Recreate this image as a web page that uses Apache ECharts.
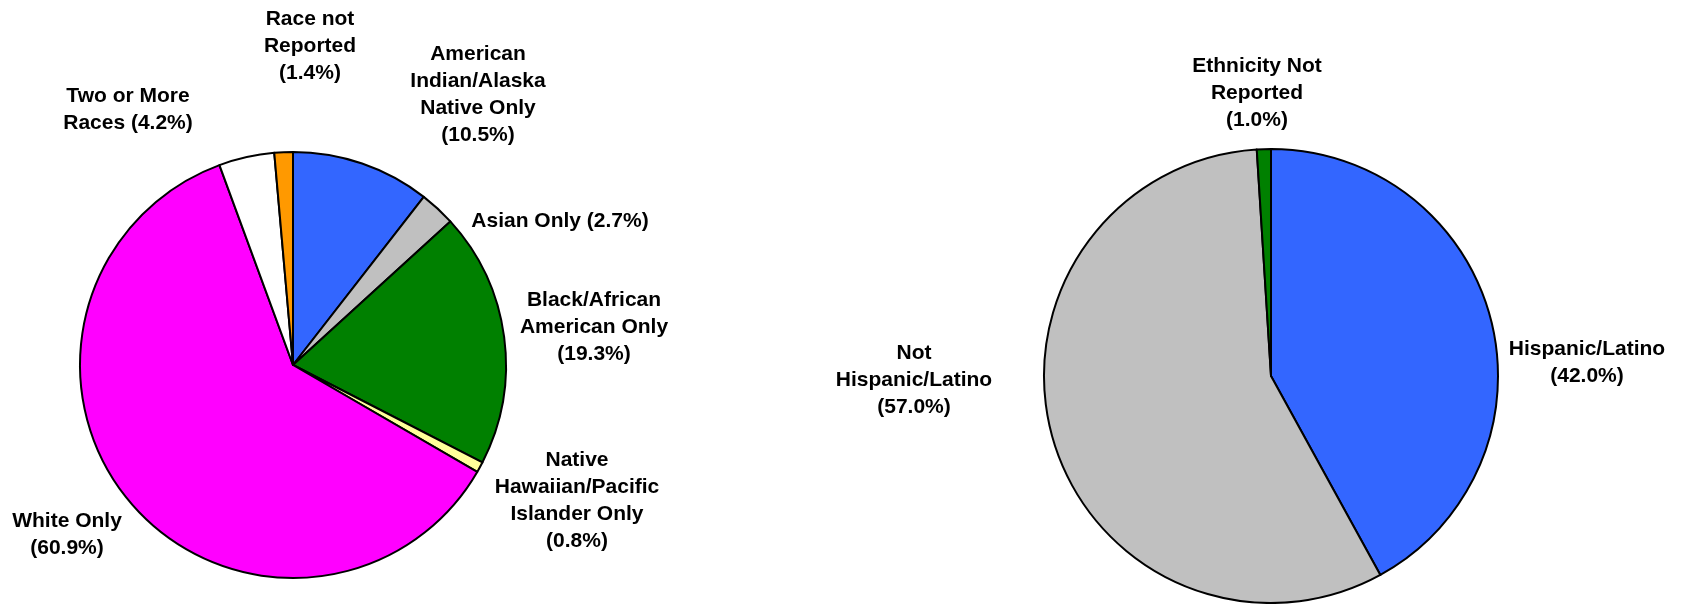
<!DOCTYPE html>
<html><head><meta charset="utf-8">
<script src="https://cdn.jsdelivr.net/npm/echarts@6/dist/echarts.min.js"></script>
<style>html,body{margin:0;padding:0;background:#fff}#c{width:1695px;height:604px}</style>
</head><body><div id="c"></div>
<script>
const raceCategories = ['American Indian/Alaska Native Only','Asian Only','Black/African American Only','Native Hawaiian/Pacific Islander Only','White Only','Two or More Races','Race not Reported'];
const raceValues = [10.5, 2.7, 19.3, 0.8, 60.9, 4.2, 1.4];
const raceLabels = ['American\nIndian/Alaska\nNative Only\n({v}%)','Asian Only ({v}%)','Black/African\nAmerican Only\n({v}%)','Native\nHawaiian/Pacific\nIslander Only\n({v}%)','White Only\n({v}%)','Two or More\nRaces ({v}%)','Race not\nReported\n({v}%)'];
const raceColors = ['#3366FF','#C0C0C0','#008000','#FFFF99','#FF00FF','#FFFFFF','#FF9900'];

const ethCategories = ['Hispanic/Latino','Not Hispanic/Latino','Ethnicity Not Reported'];
const ethValues = [42.0, 57.0, 1.0];
const ethLabels = ['Hispanic/Latino\n({v}%)','Not\nHispanic/Latino\n({v}%)','Ethnicity Not\nReported\n({v}%)'];
const ethColors = ['#3366FF','#C0C0C0','#008000'];

// label anchor positions (px)
const raceLabelPos = [[478,95],[560,221],[594,327],[577,501],[67,535],[128,110],[310,46]];
const ethLabelPos = [[1587,363],[914,380],[1257,93]];

const labelStyle = {show:true, color:'#000', fontFamily:'Liberation Sans, Arial, sans-serif', fontWeight:'bold', fontSize:21, lineHeight:27, align:'center'};

function mkData(cats, vals, cols, labs){
  return cats.map((c,i)=>({name:c, value:vals[i], itemStyle:{color:cols[i]},
    label:{formatter: labs[i].replace('{v}', vals[i].toFixed(1))}}));
}

const chart = echarts.init(document.getElementById('c'), null, {renderer:'canvas'});
chart.setOption({
  backgroundColor:'#fff',
  animation:false,
  series:[
    {type:'pie', center:[293,365], radius:[0,213], startAngle:90, clockwise:true,
     avoidLabelOverlap:false, silent:true,
     itemStyle:{borderColor:'#000', borderWidth:2},
     label:labelStyle, labelLine:{show:false},
     labelLayout:(p)=>({x:raceLabelPos[p.dataIndex][0], y:raceLabelPos[p.dataIndex][1], align:'center', verticalAlign:'middle'}),
     data:mkData(raceCategories, raceValues, raceColors, raceLabels)},
    {type:'pie', center:[1271,376], radius:[0,227], startAngle:90, clockwise:true,
     avoidLabelOverlap:false, silent:true,
     itemStyle:{borderColor:'#000', borderWidth:2},
     label:labelStyle, labelLine:{show:false},
     labelLayout:(p)=>({x:ethLabelPos[p.dataIndex][0], y:ethLabelPos[p.dataIndex][1], align:'center', verticalAlign:'middle'}),
     data:mkData(ethCategories, ethValues, ethColors, ethLabels)}
  ]
});
</script></body></html>
